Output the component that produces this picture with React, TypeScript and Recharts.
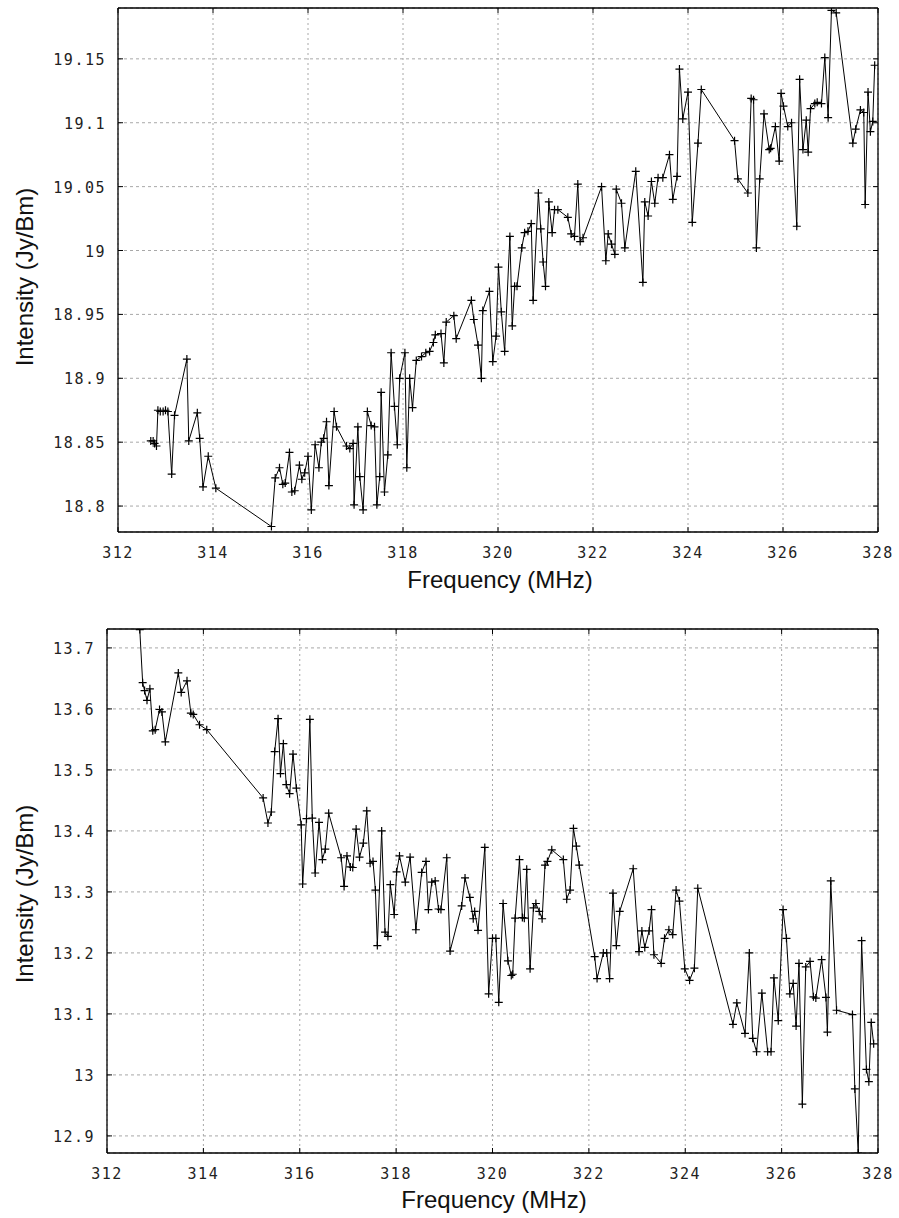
import React from "react";
import { LineChart, Line, XAxis, YAxis, CartesianGrid } from "recharts";

// upper panel
const freqTop = [
  312.69, 312.74, 312.77, 312.81, 312.84, 312.89, 312.95, 313.0, 313.05, 313.13,
  313.19, 313.45, 313.49, 313.67, 313.72, 313.79, 313.9, 314.06, 315.23, 315.31,
  315.4, 315.47, 315.52, 315.61, 315.66, 315.72, 315.82, 315.87, 315.93, 316.0,
  316.07, 316.15, 316.23, 316.28, 316.33, 316.39, 316.44, 316.55, 316.6, 316.81,
  316.88, 316.95, 316.97, 317.05, 317.09, 317.16, 317.25, 317.33, 317.4, 317.45,
  317.51, 317.54, 317.61, 317.68, 317.75, 317.82, 317.88, 317.93, 318.04, 318.08,
  318.14, 318.2, 318.28, 318.39, 318.48, 318.56, 318.64, 318.68, 318.8, 318.86,
  318.91, 319.07, 319.12, 319.44, 319.49, 319.58, 319.65, 319.68, 319.82, 319.89,
  319.96, 320.01, 320.07, 320.14, 320.25, 320.3, 320.35, 320.4, 320.5, 320.56,
  320.63, 320.7, 320.74, 320.85, 320.9, 320.95, 321.0, 321.07, 321.14, 321.19,
  321.26, 321.47, 321.54, 321.61, 321.68, 321.73, 321.79, 322.18, 322.27, 322.32,
  322.39, 322.46, 322.49, 322.6, 322.67, 322.9, 323.05, 323.09, 323.16, 323.23,
  323.3, 323.37, 323.47, 323.61, 323.68, 323.77, 323.82, 323.89, 324.0, 324.09,
  324.21, 324.28, 324.98, 325.05, 325.26, 325.33, 325.38, 325.44, 325.51, 325.6,
  325.71, 325.74, 325.84, 325.92, 325.96, 326.01, 326.1, 326.18, 326.29, 326.35,
  326.42, 326.49, 326.53, 326.58, 326.67, 326.72, 326.81, 326.88, 326.95, 327.02,
  327.12, 327.47, 327.53, 327.63, 327.7, 327.73, 327.79, 327.84, 327.89, 327.93,
];
const intensityTop = [
  18.851, 18.851, 18.849, 18.847, 18.875, 18.874, 18.874, 18.875, 18.874, 18.825,
  18.871, 18.915, 18.851, 18.873, 18.853, 18.815, 18.839, 18.814, 18.784, 18.822,
  18.83, 18.817, 18.818, 18.842, 18.811, 18.812, 18.832, 18.821, 18.826, 18.839,
  18.797, 18.848, 18.83, 18.85, 18.853, 18.866, 18.816, 18.874, 18.862, 18.847,
  18.845, 18.849, 18.801, 18.862, 18.823, 18.797, 18.874, 18.863, 18.862, 18.801,
  18.823, 18.889, 18.811, 18.84, 18.92, 18.878, 18.848, 18.9, 18.92, 18.83,
  18.9, 18.877, 18.914, 18.917, 18.92, 18.921, 18.928, 18.934, 18.935, 18.912,
  18.944, 18.949, 18.931, 18.961, 18.946, 18.926, 18.9, 18.953, 18.968, 18.913,
  18.933, 18.987, 18.952, 18.921, 19.011, 18.941, 18.972, 18.972, 19.002, 19.014,
  19.015, 19.021, 18.961, 19.045, 19.017, 18.991, 18.972, 19.038, 19.014, 19.032,
  19.032, 19.026, 19.013, 19.011, 19.052, 19.007, 19.01, 19.05, 18.992, 19.013,
  19.005, 18.997, 19.048, 19.037, 19.002, 19.062, 18.975, 19.038, 19.027, 19.054,
  19.037, 19.057, 19.057, 19.075, 19.04, 19.058, 19.142, 19.103, 19.124, 19.022,
  19.084, 19.126, 19.086, 19.056, 19.045, 19.119, 19.118, 19.002, 19.056, 19.107,
  19.079, 19.08, 19.097, 19.07, 19.123, 19.113, 19.097, 19.1, 19.019, 19.134,
  19.079, 19.102, 19.077, 19.111, 19.115, 19.116, 19.115, 19.151, 19.104, 19.188,
  19.186, 19.084, 19.095, 19.11, 19.108, 19.036, 19.124, 19.093, 19.101, 19.145,
];

// lower panel
const freqBottom = [
  312.68, 312.74, 312.78, 312.83, 312.89, 312.95, 313.0, 313.09, 313.14, 313.21,
  313.48, 313.54, 313.66, 313.74, 313.79, 313.92, 314.07, 315.24, 315.34, 315.41,
  315.48, 315.55, 315.6, 315.66, 315.72, 315.79, 315.86, 315.93, 316.03, 316.06,
  316.14, 316.21, 316.26, 316.32, 316.4, 316.47, 316.53, 316.6, 316.86, 316.92,
  316.98, 317.05, 317.1, 317.17, 317.24, 317.32, 317.39, 317.46, 317.52, 317.57,
  317.61, 317.7, 317.77, 317.83, 317.88, 317.96, 318.01, 318.07, 318.19, 318.29,
  318.41, 318.53, 318.62, 318.67, 318.74, 318.81, 318.88, 318.93, 319.05, 319.12,
  319.36, 319.43, 319.53, 319.6, 319.63, 319.7, 319.84, 319.92, 320.0, 320.07,
  320.13, 320.22, 320.32, 320.39, 320.42, 320.47, 320.56, 320.62, 320.66, 320.71,
  320.78, 320.85, 320.9, 320.97, 321.03, 321.09, 321.14, 321.23, 321.47, 321.54,
  321.61, 321.68, 321.74, 321.8, 322.12, 322.17, 322.3, 322.37, 322.43, 322.5,
  322.57, 322.64, 322.92, 323.04, 323.1, 323.16, 323.25, 323.3, 323.35, 323.5,
  323.57, 323.66, 323.74, 323.81, 323.88, 323.99, 324.09, 324.19, 324.26, 324.99,
  325.07, 325.24, 325.33, 325.4, 325.48, 325.59, 325.71, 325.78, 325.84, 325.93,
  326.03, 326.1, 326.17, 326.24, 326.3, 326.36, 326.43, 326.5, 326.59, 326.66,
  326.71, 326.83, 326.92, 326.95, 327.02, 327.14, 327.47, 327.52, 327.59, 327.66,
  327.76, 327.81, 327.86, 327.91,
];
const intensityBottom = [
  13.73, 13.643, 13.63, 13.614, 13.633, 13.564, 13.566, 13.599, 13.595, 13.546,
  13.659, 13.627, 13.646, 13.593, 13.591, 13.574, 13.566, 13.454, 13.413, 13.431,
  13.53, 13.584, 13.494, 13.543, 13.476, 13.461, 13.526, 13.47, 13.41, 13.313,
  13.42, 13.583, 13.421, 13.331, 13.414, 13.353, 13.37, 13.429, 13.356, 13.309,
  13.359, 13.341, 13.34, 13.403, 13.357, 13.38, 13.433, 13.347, 13.35, 13.303,
  13.212, 13.4, 13.234, 13.227, 13.312, 13.263, 13.333, 13.359, 13.316, 13.357,
  13.238, 13.332, 13.35, 13.271, 13.316, 13.318, 13.272, 13.271, 13.356, 13.203,
  13.277, 13.323, 13.291, 13.256, 13.268, 13.237, 13.373, 13.133, 13.224, 13.224,
  13.119, 13.281, 13.187, 13.163, 13.165, 13.257, 13.353, 13.258, 13.257, 13.337,
  13.174, 13.274, 13.281, 13.268, 13.256, 13.344, 13.35, 13.369, 13.353, 13.288,
  13.303, 13.404, 13.375, 13.344, 13.194, 13.158, 13.2, 13.2, 13.158, 13.298,
  13.212, 13.268, 13.338, 13.202, 13.236, 13.209, 13.236, 13.271, 13.197, 13.183,
  13.224, 13.238, 13.23, 13.303, 13.285, 13.174, 13.155, 13.175, 13.306, 13.083,
  13.118, 13.068, 13.2, 13.06, 13.038, 13.134, 13.038, 13.038, 13.159, 13.089,
  13.271, 13.224, 13.133, 13.15, 13.08, 13.183, 12.952, 13.177, 13.186, 13.128,
  13.126, 13.189, 13.127, 13.07, 13.318, 13.106, 13.099, 12.977, 12.872, 13.22,
  13.009, 12.989, 13.086, 13.051,
];

const freqTicks = [312, 314, 316, 318, 320, 322, 324, 326, 328];
const topTicks = [18.8, 18.85, 18.9, 18.95, 19, 19.05, 19.1, 19.15];
const bottomTicks = [12.9, 13, 13.1, 13.2, 13.3, 13.4, 13.5, 13.6, 13.7];
const xTitle = "Frequency (MHz)";
const yTitle = "Intensity (Jy/Bm)";

const tickStyle: React.CSSProperties = {
  fontFamily: "'DejaVu Sans Mono', monospace",
  fontSize: 15,
  letterSpacing: "1.5px",
  fill: "#222",
};
const titleStyle: React.CSSProperties = {
  fontFamily: "'Liberation Sans', Arial, sans-serif",
  fontSize: 24,
  fill: "#111",
};

const Cross = (props: any) => {
  const { cx, cy, index } = props;
  if (cx == null || cy == null) return <g key={index} />;
  return (
    <path
      key={index}
      d={`M${cx - 4},${cy}H${cx + 4}M${cx},${cy - 4}V${cy + 4}`}
      stroke="#000"
      strokeWidth={1.2}
      fill="none"
    />
  );
};

const BottomTick = ({ x, y, payload }: any) => (
  <g>
    <line x1={x} x2={x} y1={y} y2={y - 5} stroke="#000" />
    <text x={x} y={y + 26} textAnchor="middle" style={tickStyle}>
      {payload.value}
    </text>
  </g>
);
const TopTick = ({ x, y }: any) => <line x1={x} x2={x} y1={y} y2={y + 5} stroke="#000" />;
const LeftTick = ({ x, y, payload }: any) => (
  <g>
    <line x1={x} x2={x + 5} y1={y} y2={y} stroke="#000" />
    <text x={x - 12} y={y + 6} textAnchor="end" style={tickStyle}>
      {payload.value}
    </text>
  </g>
);
const RightTick = ({ x, y }: any) => <line x1={x} x2={x - 5} y1={y} y2={y} stroke="#000" />;

const AxisTitle = ({ tx, ty, rot, text }: any) => (
  <text
    x={tx}
    y={ty}
    textAnchor="middle"
    transform={rot ? `rotate(-90 ${tx} ${ty})` : undefined}
    style={titleStyle}
  >
    {text}
  </text>
);

function Panel({ freq, values, ticks, domain, height, leftWidth, topHeight, bottomHeight, yTitleY, xTitleX, xTitleY }: any) {
  const data = freq.map((f: number, i: number) => ({ f, v: values[i] }));
  return (
    <LineChart width={899} height={height} data={data} margin={{ top: 0, right: 0, bottom: 0, left: 0 }}>
      <CartesianGrid horizontal vertical={false} stroke="#a8a8a8" strokeDasharray="3 3" />
      <CartesianGrid horizontal={false} vertical stroke="#a8a8a8" strokeDasharray="2 3" />
      <XAxis
        dataKey="f"
        type="number"
        domain={[312, 328]}
        ticks={freqTicks}
        interval={0}
        allowDataOverflow
        height={bottomHeight}
        tickLine={false}
        tickSize={0}
        tickMargin={0}
        axisLine={{ stroke: "#000", strokeWidth: 1.3 }}
        tick={<BottomTick />}
        label={<AxisTitle tx={xTitleX} ty={xTitleY} text={xTitle} />}
      />
      <XAxis
        xAxisId="top"
        orientation="top"
        dataKey="f"
        type="number"
        domain={[312, 328]}
        ticks={freqTicks}
        interval={0}
        allowDataOverflow
        height={topHeight}
        tickLine={false}
        tickSize={0}
        tickMargin={0}
        axisLine={{ stroke: "#000", strokeWidth: 1.3 }}
        tick={<TopTick />}
      />
      <YAxis
        type="number"
        domain={domain}
        ticks={ticks}
        interval={0}
        allowDataOverflow
        width={leftWidth}
        tickLine={false}
        tickSize={0}
        tickMargin={0}
        axisLine={{ stroke: "#000", strokeWidth: 1.3 }}
        tick={<LeftTick />}
        label={<AxisTitle tx={33} ty={yTitleY} rot text={yTitle} />}
      />
      <YAxis
        yAxisId="right"
        orientation="right"
        type="number"
        domain={domain}
        ticks={ticks}
        interval={0}
        allowDataOverflow
        width={21}
        tickLine={false}
        tickSize={0}
        tickMargin={0}
        axisLine={{ stroke: "#000", strokeWidth: 1.3 }}
        tick={<RightTick />}
      />
      <Line
        dataKey="v"
        type="linear"
        stroke="#000"
        strokeWidth={1}
        dot={Cross}
        activeDot={false}
        isAnimationActive={false}
      />
    </LineChart>
  );
}

export default function App() {
  return (
    <div style={{ position: "absolute", left: 0, top: 0, width: 899, height: 1218, background: "#fff" }}>
      <Panel
        freq={freqTop}
        values={intensityTop}
        ticks={topTicks}
        domain={[18.7797, 19.1898]}
        height={600}
        leftWidth={118}
        topHeight={8}
        bottomHeight={68}
        yTitleY={277}
        xTitleX={500}
        xTitleY={588}
      />
      <Panel
        freq={freqBottom}
        values={intensityBottom}
        ticks={bottomTicks}
        domain={[12.872, 13.731]}
        height={618}
        leftWidth={107}
        topHeight={29}
        bottomHeight={65}
        yTitleY={294}
        xTitleX={494}
        xTitleY={608}
      />
    </div>
  );
}
